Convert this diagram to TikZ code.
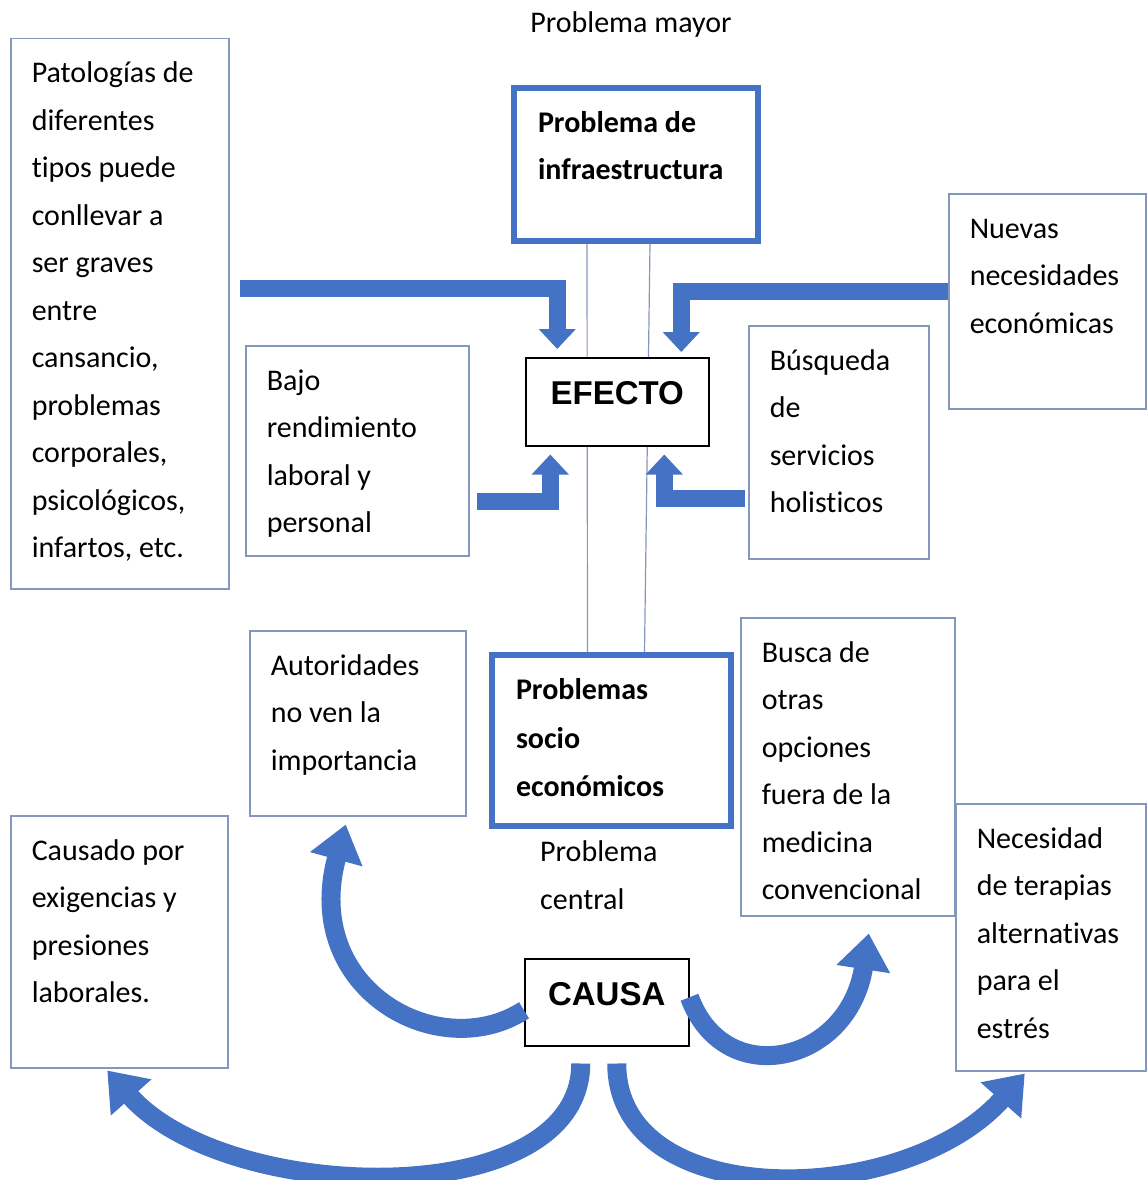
\documentclass[tikz,border=0pt]{standalone}
\usepackage{fontspec}
\setmainfont{Carlito}[Ligatures=NoCommon]
\newfontfamily\headfont{Liberation Sans}
\usetikzlibrary{arrows.meta,backgrounds}

\definecolor{arrowblue}{RGB}{68,114,196}
\definecolor{boxline}{RGB}{132,152,188}

% text of a box: width, height, lines
\newcommand{\boxtxt}[3]{%
  \begin{minipage}[t][#2][t]{#1}\raggedright\vspace*{11pt}\strut#3\end{minipage}}

\tikzset{
  every node/.style={font=\fontsize{30}{47.5}\selectfont},
  thinbox/.style={draw=boxline, line width=1.5pt, fill=white, anchor=north west,
    inner xsep=21pt, inner ysep=0pt},
  thickbox/.style={thinbox, draw=arrowblue, line width=6pt, inner xsep=24pt,
    font=\fontsize{30}{47.5}\selectfont\bfseries},
  keybox/.style={draw=black, line width=1.5pt, fill=white, anchor=north west,
    inner sep=0pt, text height=47pt, font=\headfont\bfseries\fontsize{33}{40}\selectfont},
  stem/.style={draw=boxline, line width=1.2pt},
  flowarrow/.style={draw=arrowblue, line width=17pt, -{Triangle[width=36pt,length=20pt]}},
  bendarrow/.style={draw=arrowblue, line width=19pt, -{Triangle[width=52pt,length=36pt]}}
}

\begin{document}
\begin{tikzpicture}[x=1pt,y=-1pt]
\useasboundingbox (0,0) rectangle (1146,1180);

% upper half
\node (mayor) at (631,25) {Problema mayor};
\node[thinbox] (pat) at (10,38) {\boxtxt{176pt}{550pt}{Patologías de\\diferentes\\tipos puede\\conllevar a\\ser graves\\entre\\cansancio,\\problemas\\corporales,\\psicológicos,\\infartos, etc.}};
\node[thickbox] (infra) at (511,85) {\boxtxt{196pt}{153pt}{Problema de\\infraestructura}};
\node[thinbox] (nuevas) at (948,193) {\boxtxt{155pt}{215pt}{Nuevas\\necesidades\\económicas}};
\node[thinbox] (bajo) at (245,345) {\boxtxt{181pt}{210pt}{Bajo\\rendimiento\\laboral y\\personal}};
\node[keybox, minimum width=183pt, text depth=41pt] (efecto) at (525,357) {EFECTO};
\node[thinbox] (busq) at (748,325) {\boxtxt{138pt}{233pt}{Búsqueda\\de\\servicios\\holisticos}};

% lower half
\node[thinbox] (autor) at (249,630) {\boxtxt{174pt}{185pt}{Autoridades\\no ven la\\importancia}};
\node[thickbox] (socio) at (489,652) {\boxtxt{191pt}{171pt}{\vspace*{2pt}Problemas\\socio\\económicos}};
\node[thinbox] (busca) at (740,617) {\boxtxt{172pt}{298pt}{Busca de\\otras\\opciones\\fuera de la\\medicina\\convencional}};
\node[anchor=west, align=left, inner sep=0pt] (central) at (540,875) {Problema\\central};
\node[thinbox] (necesidad) at (955,803) {\boxtxt{148pt}{267pt}{Necesidad\\de terapias\\alternativas\\para el\\estrés}};
\node[thinbox] (causado) at (10,815) {\boxtxt{175pt}{252pt}{Causado por\\exigencias y\\presiones\\laborales.}};
\node[keybox, minimum width=164pt, text depth=40pt] (causa) at (524,958) {CAUSA};

% trunk
\begin{scope}[on background layer]
\draw[stem] ([xshift=-49pt]infra.south) -- ([xshift=-24pt]socio.north);
\draw[stem] ([xshift=14pt]infra.south) -- ([xshift=33pt]socio.north);
\end{scope}

% arrows into EFECTO
\draw[flowarrow] ([shift={(10,-25)}]pat.east) -| ([xshift=-60pt,yshift=8pt]efecto.north);
\draw[flowarrow] ([shift={(0,-10)}]nuevas.west) -| ([xshift=64pt,yshift=5pt]efecto.north);
\draw[flowarrow] ([shift={(7,51)}]bajo.east) -| ([xshift=-67pt,yshift=-8pt]efecto.south);
\draw[flowarrow] ([shift={(-3,56)}]busq.west) -| ([xshift=47pt,yshift=-8pt]efecto.south);

% arrows out of CAUSA
\draw[bendarrow] ([yshift=-8pt]causa.west) .. controls +(-85,55) and +(-45,165) .. ([xshift=-12pt,yshift=-8pt]autor.south);
\draw[bendarrow] ([yshift=5pt]causa.east) .. controls +(35,95) and +(-20,130) .. ([xshift=21pt,yshift=-17pt]busca.south);
\draw[bendarrow] ([xshift=-26pt,yshift=-17pt]causa.south) .. controls +(0,150) and +(120,135) .. ([xshift=-12pt,yshift=-2pt]causado.south);
\draw[bendarrow] ([xshift=10pt,yshift=-17pt]causa.south) .. controls +(0,150) and +(-120,135) .. ([xshift=-26pt,yshift=-2pt]necesidad.south);
\end{tikzpicture}
\end{document}
